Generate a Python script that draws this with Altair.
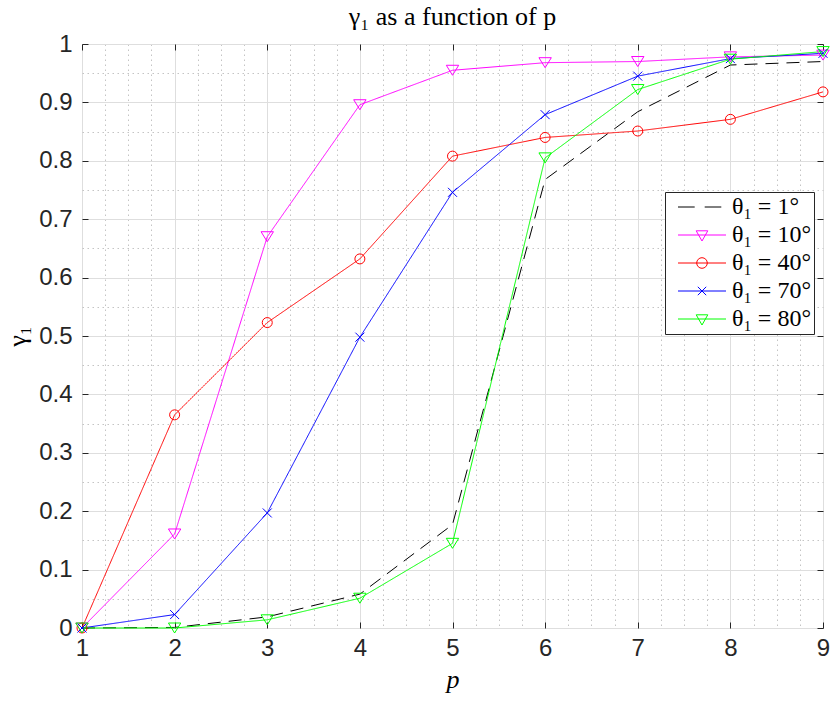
import altair as alt
import pandas as pd

# ---------------- data ----------------
p_values = [1, 2, 3, 4, 5, 6, 7, 8, 9]
gamma_theta_1 = [0.0, 0.001, 0.019, 0.058, 0.177, 0.768, 0.884, 0.964, 0.970]
gamma_theta_10 = [0.0, 0.161, 0.670, 0.896, 0.955, 0.968, 0.970, 0.978, 0.981]
gamma_theta_40 = [0.0, 0.365, 0.523, 0.632, 0.808, 0.840, 0.851, 0.871, 0.918]
gamma_theta_70 = [0.0, 0.023, 0.197, 0.498, 0.746, 0.879, 0.945, 0.975, 0.984]
gamma_theta_80 = [0.0, 0.0, 0.014, 0.051, 0.145, 0.805, 0.922, 0.974, 0.987]

series_labels = ["θ₁ = 1°", "θ₁ = 10°", "θ₁ = 40°", "θ₁ = 70°", "θ₁ = 80°"]
series_colors = ["#000000", "#ff00ff", "#ff0000", "#0000ff", "#00ff00"]
marker_keys = ["none", "tri-m", "circle", "cross", "tri-g"]
dash_keys = ["dashed", "solid-m", "solid-r", "solid-b", "solid-g"]

x_major = [1, 2, 3, 4, 5, 6, 7, 8, 9]
x_all_ticks = [1 + 0.25 * i for i in range(33)]
y_major = [round(0.1 * i, 2) for i in range(11)]
y_all_ticks = [round(0.05 * i, 2) for i in range(21)]

all_series = [gamma_theta_1, gamma_theta_10, gamma_theta_40, gamma_theta_70, gamma_theta_80]
rows = []
for label, mk, dk, vals in zip(series_labels, marker_keys, dash_keys, all_series):
    for p, g in zip(p_values, vals):
        rows.append({"p": p, "gamma": g, "series": label, "marker": mk, "dash": dk})
df = pd.DataFrame(rows)

# ---------------- styling ----------------
TICK_FONT = "Liberation Sans"
SERIF = "Liberation Serif"
AX = "#262626"
MAJOR_GRID = "#dedede"
MINOR_GRID = "#c4c4c4"

# marker shapes for the plot (size 100 -> unit = 5px)
tri = "M-1.24,-1L1.24,-1L0,1Z"
circ = "M1,0A1,1 0 1,1 -1,0A1,1 0 1,1 1,0"
xmark = "M-0.9,-0.9L0.9,0.9M-0.9,0.9L0.9,-0.9"
marker_range = [tri, tri, circ, xmark, tri]

# legend glyphs (symbolSize 400 -> unit = 10px): line segment + marker
leg_dash = "M-2.4,0H-0.73M0.27,0H1.93"
leg_tri = "M-2.4,0H2.4M-0.58,-0.42L0.58,-0.42L0,0.6Z"
leg_circ = "M-2.4,0H2.4M0.53,0A0.53,0.53 0 1,1 -0.53,0A0.53,0.53 0 1,1 0.53,0"
leg_x = "M-2.4,0H2.4M-0.42,-0.42L0.42,0.42M-0.42,0.42L0.42,-0.42"
legend_shape_expr = (
    "datum.value === '%s' ? '%s' : datum.value === '%s' ? '%s' : "
    "datum.value === '%s' ? '%s' : '%s'"
) % (series_labels[0], leg_dash, series_labels[2], leg_circ,
     series_labels[3], leg_x, leg_tri)

x_major_test = "abs(datum.value - round(datum.value)) < 0.001"
y_major_test = "abs(datum.value*10 - round(datum.value*10)) < 0.001"

x_scale = alt.Scale(domain=[1, 9], nice=False, zero=False)
y_scale = alt.Scale(domain=[0, 1], nice=False, zero=False)

color_scale = alt.Scale(domain=series_labels, range=series_colors)

x_axis_main = alt.Axis(
    orient="bottom",
    values=x_all_ticks,
    labelExpr="%s ? format(datum.value, 'd') : ''" % x_major_test,
    labelFont=TICK_FONT, labelFontSize=24, labelColor=AX,
    labelPadding=14, labelFlush=False, labelOverlap=False,
    domain=False,
    ticks=True, tickSize={"expr": "-6"}, tickColor=AX, tickWidth=1,
    tickOpacity={"condition": {"test": x_major_test, "value": 1}, "value": 0},
    grid=True,
    gridColor={"condition": {"test": x_major_test, "value": MAJOR_GRID}, "value": MINOR_GRID},
    gridDash={"condition": {"test": x_major_test, "value": []}, "value": [1.5, 3.5]},
    gridWidth=1,
    title="p", titleFont=SERIF, titleFontSize=26, titleFontStyle="italic",
    titleFontWeight="normal", titleColor="black", titlePadding=6,
)
y_axis_main = alt.Axis(
    orient="left",
    values=y_all_ticks,
    labelExpr="%s ? format(datum.value, '~g') : ''" % y_major_test,
    labelFont=TICK_FONT, labelFontSize=24, labelColor=AX,
    labelPadding=16, labelOverlap=False, labelFlush=False,
    domain=False,
    ticks=True, tickSize={"expr": "-6"}, tickColor=AX, tickWidth=1,
    tickOpacity={"condition": {"test": y_major_test, "value": 1}, "value": 0},
    grid=True,
    gridColor={"condition": {"test": y_major_test, "value": MAJOR_GRID}, "value": MINOR_GRID},
    gridDash={"condition": {"test": y_major_test, "value": []}, "value": [1.5, 3.5]},
    gridWidth=1,
    title="γ₁", titleFont=SERIF, titleFontSize=26,
    titleFontWeight="normal", titleColor="black", titlePadding=8,
)
x_axis_top = alt.Axis(orient="top", values=x_major, labels=False, grid=False, domain=False,
                      ticks=True, tickSize={"expr": "-6"}, tickColor=AX, title=None)
y_axis_right = alt.Axis(orient="right", values=y_major, labels=False, grid=False, domain=False,
                        ticks=True, tickSize={"expr": "-6"}, tickColor=AX, title=None)

base = alt.Chart(df)

lines = base.mark_line(strokeWidth=1, clip=False).encode(
    x=alt.X("p:Q", scale=x_scale, axis=x_axis_main),
    y=alt.Y("gamma:Q", scale=y_scale, axis=y_axis_main),
    color=alt.Color(
        "series:N", scale=color_scale,
        legend=alt.Legend(
            title=None, orient="none", legendX=583, legendY=148,
            direction="vertical",
            fillColor="white", strokeColor=AX, padding=3, cornerRadius=0,
            symbolSize=400, symbolStrokeWidth=1, symbolOffset=22,
            symbolFillColor="transparent",
            symbolType={"expr": legend_shape_expr},
            labelOffset=18, labelFont=SERIF, labelFontSize=24, labelColor="black",
            labelLimit=400, rowPadding=4,
        ),
    ),
    strokeDash=alt.StrokeDash(
        "dash:N",
        scale=alt.Scale(domain=dash_keys,
                        range=[[13, 8], [1, 0], [1, 0], [1, 0], [1, 0]]),
        legend=None,
    ),
    detail="series:N",
)

points = base.transform_filter(
    alt.datum.marker != marker_keys[0]
).mark_point(filled=False, size=100, strokeWidth=1, opacity=1).encode(
    x=alt.X("p:Q", scale=x_scale, axis=x_axis_top),
    y=alt.Y("gamma:Q", scale=y_scale, axis=y_axis_right),
    color=alt.Color("series:N", scale=color_scale, legend=None),
    shape=alt.Shape("marker:N", scale=alt.Scale(domain=marker_keys, range=marker_range),
                    legend=None),
)

chart = alt.layer(lines, points).resolve_axis(
    x="independent", y="independent"
).properties(
    width=741,
    height=584,
    title=alt.TitleParams(
        "γ₁ as a function of p", font=SERIF, fontSize=26, fontWeight="normal",
        color="black", anchor="middle", offset=2,
    ),
    autosize=alt.AutoSizeParams(type="none"),
    padding={"left": 82, "top": 44, "right": 8, "bottom": 74},
).configure_view(
    stroke=AX, strokeWidth=1, fill="white"
).configure(background="white")

chart.save("out.html", embed_options={"renderer": "svg", "actions": False})
